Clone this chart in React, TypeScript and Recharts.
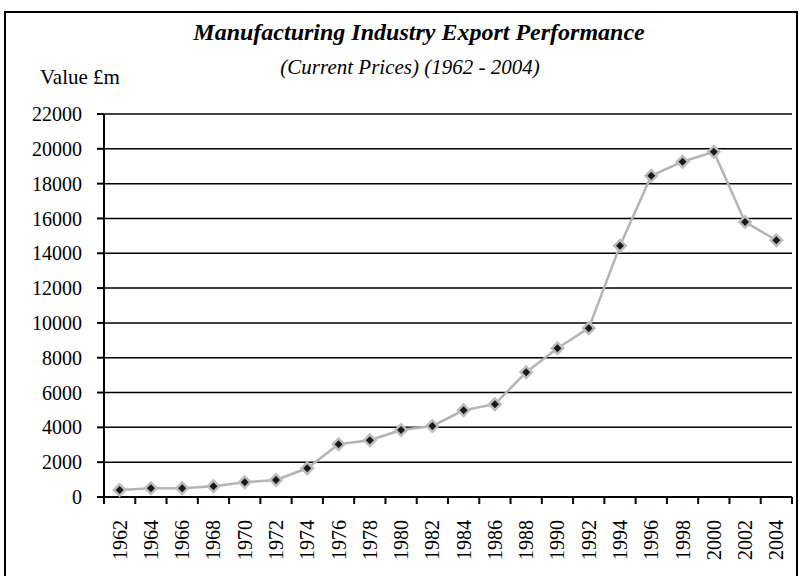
import { LineChart, Line, XAxis, YAxis, CartesianGrid } from 'recharts'

const years = [
  '1962', '1964', '1966', '1968', '1970', '1972', '1974', '1976', '1978', '1980', '1982',
  '1984', '1986', '1988', '1990', '1992', '1994', '1996', '1998', '2000', '2002', '2004',
]
const exportValues = [
  400, 500, 500, 615, 845, 975, 1650, 3030, 3260, 3850, 4080,
  4980, 5330, 7170, 8550, 9700, 14430, 18450, 19260, 19830, 15790, 14750,
]
const yTicks = [0, 2000, 4000, 6000, 8000, 10000, 12000, 14000, 16000, 18000, 20000, 22000]

const data = years.map((year, i) => ({ year, value: exportValues[i] }))

const FONT = 'Liberation Serif'
const PLOT_LEFT = 104
const PLOT_RIGHT = 792
const HALF_BAND = (PLOT_RIGHT - PLOT_LEFT) / years.length / 2

function YearTick(props: any) {
  const { x, y, payload, index } = props
  const ty = y + 23
  return (
    <g>
      <line x1={x - HALF_BAND} y1={y} x2={x - HALF_BAND} y2={y + 7} stroke="#000" strokeWidth={2} />
      {index === years.length - 1 && (
        <line x1={x + HALF_BAND} y1={y} x2={x + HALF_BAND} y2={y + 7} stroke="#000" strokeWidth={2} />
      )}
      <text
        x={x}
        y={ty}
        transform={`rotate(-90, ${x}, ${ty})`}
        textAnchor="end"
        dominantBaseline="central"
        style={{ fontSize: 20, fontFamily: FONT }}
        fill="#000"
      >
        {payload.value}
      </text>
    </g>
  )
}

function DiamondDot(props: any) {
  const { cx, cy, index } = props
  if (cx == null || cy == null) return <g key={index} />
  const o = 7.5
  const n = 4
  return (
    <g key={index}>
      <polygon points={`${cx},${cy - o} ${cx + o},${cy} ${cx},${cy + o} ${cx - o},${cy}`} fill="#bdbdbd" />
      <polygon points={`${cx},${cy - n} ${cx + n},${cy} ${cx},${cy + n} ${cx - n},${cy}`} fill="#1a1a1a" />
    </g>
  )
}

const textBase: React.CSSProperties = {
  position: 'absolute',
  fontFamily: FONT,
  color: '#000',
  whiteSpace: 'nowrap',
  lineHeight: 1,
}

export default function App() {
  return (
    <div
      style={{
        position: 'absolute',
        left: 0,
        top: 0,
        width: 801,
        height: 576,
        background: '#fff',
        overflow: 'hidden',
        fontFamily: FONT,
      }}
    >
      <div style={{ position: 'absolute', left: 0, top: 0 }}>
        <LineChart
          width={801}
          height={576}
          data={data}
          margin={{ top: 114, right: 801 - PLOT_RIGHT, left: PLOT_LEFT - 80, bottom: 9 }}
        >
          <CartesianGrid vertical={false} stroke="#000" strokeWidth={1.5} />
          <XAxis
            dataKey="year"
            interval={0}
            padding={{ left: HALF_BAND, right: HALF_BAND }}
            height={70}
            tickSize={0}
            tickMargin={0}
            tickLine={false}
            axisLine={{ stroke: '#000', strokeWidth: 2 }}
            tick={(p: any) => <YearTick {...p} />}
          />
          <YAxis
            domain={[0, 22000]}
            ticks={yTicks}
            interval={0}
            width={80}
            tickSize={7}
            tickMargin={15}
            axisLine={{ stroke: '#000', strokeWidth: 2 }}
            tickLine={{ stroke: '#000', strokeWidth: 2 }}
            tick={{ fontSize: 20, fill: '#000', fontFamily: FONT }}
          />
          <YAxis
            yAxisId="right"
            orientation="right"
            domain={[0, 22000]}
            width={0}
            tick={false}
            tickLine={false}
            axisLine={{ stroke: '#000', strokeWidth: 2 }}
          />
          <Line
            type="linear"
            dataKey="value"
            stroke="#b4b4b4"
            strokeWidth={2.5}
            dot={(p: any) => <DiamondDot {...p} />}
            activeDot={false}
            isAnimationActive={false}
          />
        </LineChart>
      </div>
      <div
        style={{
          position: 'absolute',
          zIndex: 5,
          left: 4,
          top: 11,
          width: 790,
          height: 600,
          borderTop: '2px solid #000',
          borderLeft: '2px solid #000',
          borderRight: '2px solid #000',
          pointerEvents: 'none',
        }}
      />
      <div style={{ ...textBase, left: 0, width: 838, top: 20, textAlign: 'center', fontSize: 24, fontWeight: 'bold', fontStyle: 'italic' }}>
        Manufacturing Industry Export Performance
      </div>
      <div style={{ ...textBase, left: 0, width: 820, top: 57, textAlign: 'center', fontSize: 21, fontStyle: 'italic' }}>
        (Current Prices) (1962 - 2004)
      </div>
      <div style={{ ...textBase, left: 40, top: 67, fontSize: 21 }}>Value £m</div>
    </div>
  )
}
